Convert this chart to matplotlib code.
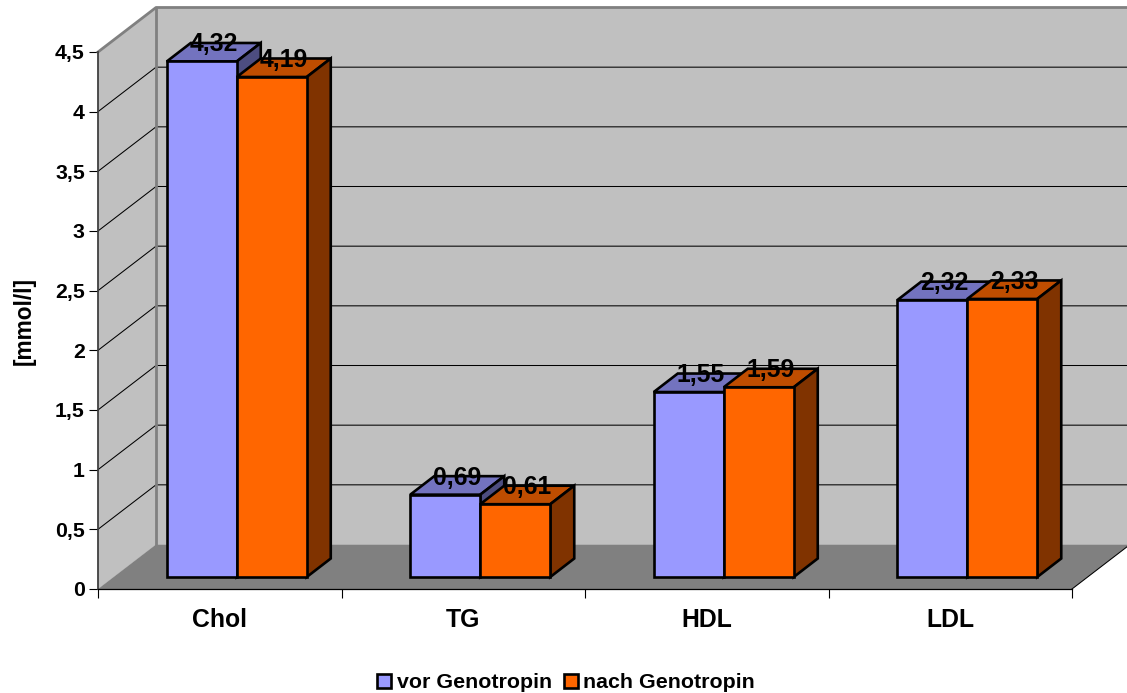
import matplotlib
matplotlib.use("Agg")
import matplotlib.pyplot as plt
from matplotlib.patches import Polygon, Patch

plt.rcParams['font.family'] = ['Liberation Sans', 'DejaVu Sans']
plt.rcParams['font.weight'] = 'bold'

categories = ["Chol", "TG", "HDL", "LDL"]
series_names = ["vor Genotropin", "nach Genotropin"]
vor = [4.32, 0.69, 1.55, 2.32]
nach = [4.19, 0.61, 1.59, 2.33]
vor_labels = ["4,32", "0,69", "1,55", "2,32"]
nach_labels = ["4,19", "0,61", "1,59", "2,33"]
y_ticks = [0, 0.5, 1, 1.5, 2, 2.5, 3, 3.5, 4, 4.5]
y_tick_labels = ["0", "0,5", "1", "1,5", "2", "2,5", "3", "3,5", "4", "4,5"]

front_colors = ["#9999FF", "#FF6600"]
top_colors = ["#7373BF", "#BF4D00"]
side_colors = ["#4D4D80", "#803300"]

W, H = 1127, 693
fig = plt.figure(figsize=(W / 100, H / 100), dpi=100, facecolor="white")
ax = fig.add_axes([98 / W, (H - 589) / H, 974 / W, 537 / H])
ax.set_xlim(0, 4)
ax.set_ylim(0, 4.5)
ax.patch.set_visible(False)

px_x = 4 / 974
px_y = 4.5 / 537
wall_dx = 58 * px_x
wall_dy = 44.5 * px_y
bar_dx = 24 * px_x
bar_dy = 18.5 * px_y
inset_dx = 15.5 * px_x
inset_dy = 12 * px_y
bar_w = 70 * px_x
label_drop = 1.5 * px_y


def poly(pts, fc, ec="none", lw=0, z=1):
    ax.add_patch(Polygon(pts, closed=True, facecolor=fc, edgecolor=ec, linewidth=lw,
                         zorder=z, clip_on=False, joinstyle="miter"))


# walls and floor
poly([(0, 0), (wall_dx, wall_dy), (4 + wall_dx, wall_dy), (4 + wall_dx, 4.5 + wall_dy), (wall_dx, 4.5 + wall_dy)],
     "#C0C0C0", z=1)
poly([(0, 0), (0, 4.5), (wall_dx, 4.5 + wall_dy), (wall_dx, wall_dy)], "#C0C0C0", z=1)
poly([(0, 0), (4, 0), (4 + wall_dx, wall_dy), (wall_dx, wall_dy)], "#808080", z=2)

for v in y_ticks[1:-1]:
    ax.plot([0, wall_dx, 4 + wall_dx], [v, v + wall_dy, v + wall_dy], color="black", lw=0.75,
            zorder=1.5, clip_on=False, solid_joinstyle="miter")
ax.plot([0, wall_dx, 4 + wall_dx], [4.5, 4.5 + wall_dy, 4.5 + wall_dy], color="#808080", lw=2,
        zorder=2.5, clip_on=False)
ax.plot([wall_dx, wall_dx], [wall_dy, 4.5 + wall_dy], color="#808080", lw=2, zorder=1.6, clip_on=False)
ax.plot([4, 4 + wall_dx], [0, wall_dy], color="black", lw=0.75, zorder=2.5, clip_on=False)

# bars
for s, (vals, labs) in enumerate(zip((vor, nach), (vor_labels, nach_labels))):
    for i, (v, lab) in enumerate(zip(vals, labs)):
        x0 = i + 0.5 + inset_dx - bar_w + s * bar_w + 1.5 * px_x
        top = inset_dy + v
        z = 3 + s + i * 2
        ax.bar(x0, v, width=bar_w, bottom=inset_dy, align="edge", color=front_colors[s],
               edgecolor="black", linewidth=1.9, zorder=z + 0.5, clip_on=False)
        poly([(x0, top), (x0 + bar_dx, top + bar_dy), (x0 + bar_w + bar_dx, top + bar_dy), (x0 + bar_w, top)],
             top_colors[s], "black", 1.9, z)
        poly([(x0 + bar_w, inset_dy), (x0 + bar_w + bar_dx, inset_dy + bar_dy),
              (x0 + bar_w + bar_dx, top + bar_dy), (x0 + bar_w, top)],
             side_colors[s], "black", 1.9, z)
        ax.text(x0 + bar_w / 2 + bar_dx / 2, top + bar_dy - label_drop, lab, ha="center", va="center",
                fontsize=17.8, fontweight="bold", color="black", zorder=20, clip_on=False)

# axes
for name in ("top", "right"):
    ax.spines[name].set_visible(False)
ax.spines["left"].set_linewidth(1.3)
ax.spines["left"].set_color("#404040")
ax.spines["bottom"].set_linewidth(0.9)
for name in ("left", "bottom"):
    ax.spines[name].set_zorder(10)
ax.set_yticks(y_ticks)
ax.set_yticklabels(y_tick_labels, fontsize=15.3, fontweight="bold")
ax.set_xticks(range(5))
ax.set_xticklabels([""] * 5)
ax.set_xticks([i + 0.5 for i in range(4)], minor=True)
ax.set_xticklabels(categories, minor=True, fontsize=17.8, fontweight="bold")
ax.tick_params(axis="x", which="major", length=6.5, width=0.8)
ax.tick_params(axis="x", which="minor", length=0, pad=14)
ax.tick_params(axis="y", length=6.5, width=0.8, pad=3)
fig.text(24 / W, 1 - 321 / H, "[mmol/l]", rotation=90, ha="center", va="center", fontsize=16.3, fontweight="bold")

handles = [Patch(facecolor=c, edgecolor="black", linewidth=1.9) for c in front_colors]
fig.legend(handles, series_names, loc="center", bbox_to_anchor=(566 / W, 1 - 683 / H), ncol=2, frameon=False,
           handlelength=0.68, handleheight=0.68, handletextpad=0.25, columnspacing=0.55,
           borderpad=0, prop={"weight": "bold", "size": 15.4})

fig.savefig("out.png", dpi=100)
